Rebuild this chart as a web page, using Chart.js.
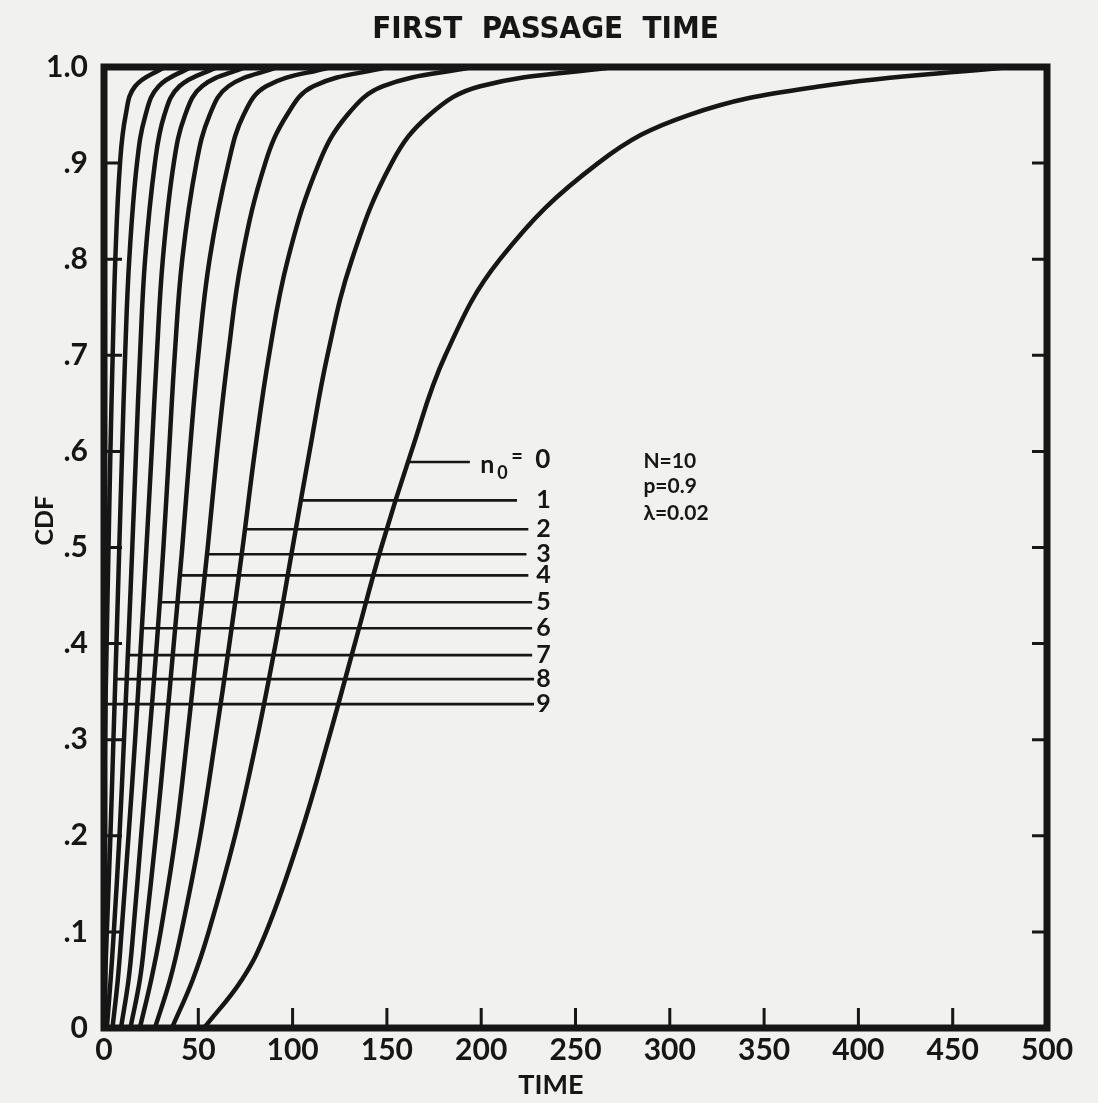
<!DOCTYPE html>
<html>
<head>
<meta charset="utf-8">
<script src="https://cdn.jsdelivr.net/npm/chart.js@4.4.1/dist/chart.umd.min.js"></script>
<style>
  html, body { margin: 0; padding: 0; background: #f1f1ef; }
  #wrap { width: 1098px; height: 1103px; position: relative; }
</style>
</head>
<body>
<div id="wrap"><canvas id="fptChart"></canvas></div>
<script>
const ink = '#161616';

const cdfLevels = [0, 0.05, 0.1, 0.2, 0.3, 0.4, 0.5, 0.6, 0.7, 0.8, 0.9, 0.95, 0.98, 1.0];

// time values per curve (n0 = starting state), one per CDF level
const timeN0 = [53, 73, 86, 104, 119, 133, 147, 163, 181, 210, 262, 310, 380, 480];
const timeN1 = [36, 47, 55.5, 69.5, 81, 91, 100, 109, 118.5, 131.5, 152.5, 172.5, 199.5, 270];
const timeN2 = [27, 35, 41, 51, 59, 66.5, 73.5, 80, 87.5, 97.5, 114, 129, 148, 195];
const timeN3 = [19, 25, 30, 38, 44, 49.5, 55, 60, 65.8, 73, 85.5, 97, 111, 150];
const timeN4 = [14, 19, 22, 27.5, 32.4, 37, 41.5, 45.5, 50, 56, 66, 74, 86, 120];
const timeN5 = [9, 13, 15.5, 19.7, 23.9, 28, 31.5, 34.5, 37.5, 41.5, 49, 56, 66, 92];
const timeN6 = [4.5, 7.3, 9.3, 13, 16.5, 19.6, 22.5, 25.3, 28, 31.2, 37, 43, 52, 75];
const timeN7 = [1.5, 3.5, 5.2, 8.2, 10.6, 12.9, 15, 17, 19.1, 21.8, 27, 32, 40, 60];
const timeN8 = [0, 0.6, 1.5, 3.4, 5, 6.6, 8.1, 9.6, 11.2, 13.4, 17.5, 22, 29, 46];
const timeN9 = [0, 0, 0, 0.1, 0.5, 1.4, 2.4, 3.4, 4.6, 6, 8.5, 11.5, 16.5, 32];

// horizontal marker lines: CDF value, start time (on its curve), end time
const markerCdf = [0.589, 0.549, 0.519, 0.493, 0.471, 0.443, 0.416, 0.388, 0.363, 0.337];
const markerStart = [161, 105, 74, 55, 41, 30, 20, 12, 6, 0.5];
const markerEnd = [194, 219, 225, 224, 225, 227, 227, 227, 228, 228];
const markerLabels = ['0', '1', '2', '3', '4', '5', '6', '7', '8', '9'];

// parameter block
const paramText = ['N=10', 'p=0.9', '\u03bb=0.02'];
const paramCdf = [0.59, 0.564, 0.536];

// tick labels
const xTickLabels = ['0', '50', '100', '150', '200', '250', '300', '350', '400', '450', '500'];
const yTickLabels = ['0', '.1', '.2', '.3', '.4', '.5', '.6', '.7', '.8', '.9', '1.0'];

// text anchors (in data units)
const n0LabelTime = 199.5;
const digitLabelTime = 233;
const paramTime = 286;
const xTitleTime = 237;
const yTitleCdf = 0.528;

const curves = [timeN0, timeN1, timeN2, timeN3, timeN4, timeN5, timeN6, timeN7, timeN8, timeN9];

function makeCurve(times, n) {
    return {
        label: 'n0 = ' + n,
        data: cdfLevels.map((c, i) => ({ x: times[i], y: c })),
        borderColor: ink,
        borderWidth: 4.5,
        pointRadius: 0,
        tension: 0.4,
        fill: false
    };
}

function makeMarker(k) {
    return {
        label: 'marker ' + k,
        data: [{ x: markerStart[k], y: markerCdf[k] }, { x: markerEnd[k], y: markerCdf[k] }],
        borderColor: ink,
        borderWidth: 2.6,
        pointRadius: 0,
        tension: 0,
        fill: false
    };
}

// frame + inward ticks on left, right and bottom
const frameTicks = {
    id: 'frameTicks',
    afterDatasetsDraw(chart) {
        const { ctx, chartArea: a, scales: { x, y } } = chart;
        ctx.save();
        ctx.strokeStyle = ink;
        ctx.lineWidth = 3;
        ctx.beginPath();
        x.ticks.forEach(t => {
            if (t.value <= 0 || t.value >= 500) return;
            const px = x.getPixelForValue(t.value);
            ctx.moveTo(px, a.bottom);
            ctx.lineTo(px, a.bottom - 20);
        });
        y.ticks.forEach(t => {
            if (t.value <= 0.001 || t.value >= 0.999) return;
            const py = y.getPixelForValue(t.value);
            ctx.moveTo(a.left, py);
            ctx.lineTo(a.left + 18, py);
            ctx.moveTo(a.right, py);
            ctx.lineTo(a.right - 15, py);
        });
        ctx.stroke();
        ctx.lineWidth = 7;
        ctx.lineJoin = 'miter';
        ctx.strokeRect(a.left, a.top, a.right - a.left, a.bottom - a.top);
        ctx.restore();
    }
};

// curve labels, parameter text and axis titles
const annotations = {
    id: 'annotations',
    afterDatasetsDraw(chart) {
        const { ctx, chartArea: a, scales: { x, y } } = chart;
        ctx.save();
        ctx.fillStyle = ink;
        ctx.textBaseline = 'middle';
        ctx.textAlign = 'left';

        const ax = x.getPixelForValue(n0LabelTime);
        const ay = y.getPixelForValue(markerCdf[0]);
        ctx.font = 'bold 25px Lato';
        ctx.fillText('n', ax, ay + 3);
        ctx.font = 'bold 18px Lato';
        ctx.fillText(markerLabels[0], ax + 17, ay + 11);
        ctx.font = 'bold 20px Lato';
        ctx.fillText('=', ax + 31, ay - 5);
        ctx.font = 'bold 26px Lato';
        ctx.fillText(markerLabels[0], ax + 55, ay - 2);

        ctx.font = 'bold 25px Lato';
        ctx.textAlign = 'center';
        for (let k = 1; k < markerCdf.length; k++) {
            ctx.fillText(markerLabels[k], x.getPixelForValue(digitLabelTime), y.getPixelForValue(markerCdf[k]));
        }

        ctx.font = 'bold 21px Lato';
        ctx.textAlign = 'left';
        paramText.forEach((t, i) => {
            ctx.fillText(t, x.getPixelForValue(paramTime), y.getPixelForValue(paramCdf[i]));
        });

        // axis titles
        ctx.textAlign = 'center';
        ctx.font = 'bold 27px Lato';
        ctx.fillText('TIME', x.getPixelForValue(xTitleTime), a.bottom + 57);
        ctx.translate(45, y.getPixelForValue(yTitleCdf));
        ctx.rotate(-Math.PI / 2);
        ctx.font = 'bold 25px Lato';
        ctx.fillText('CDF', 0, 0);
        ctx.restore();
    }
};

window.onload = () => {
    Chart.defaults.font.family = 'Lato';
    Chart.defaults.color = ink;

    const ctx = document.getElementById('fptChart').getContext('2d');
    new Chart(ctx, {
        type: 'line',
        data: {
            datasets: [
                ...curves.map(makeCurve),
                ...markerCdf.map((c, k) => makeMarker(k))
            ]
        },
        plugins: [frameTicks, annotations],
        options: {
            responsive: true,
            maintainAspectRatio: false,
            animation: false,
            indexAxis: 'y',
            layout: { padding: { top: 0, left: 44, right: 51, bottom: 0 } },
            plugins: {
                legend: { display: false },
                tooltip: { enabled: false },
                title: {
                    display: true,
                    text: 'FIRST  PASSAGE  TIME',
                    color: ink,
                    font: { family: '"Liberation Sans Narrow", "DejaVu Sans Condensed", "Liberation Sans"', size: 31, weight: 'bold', lineHeight: 1.2 },
                    padding: { top: 11, bottom: 18.8 }
                }
            },
            scales: {
                x: {
                    type: 'linear',
                    min: 0,
                    max: 500,
                    grid: { display: false, drawTicks: false },
                    border: { display: false },
                    ticks: {
                        stepSize: 50,
                        padding: 4,
                        color: ink,
                        font: { size: 30, weight: 'bold' },
                        maxRotation: 0,
                        callback: (v, i) => xTickLabels[i]
                    },
                    afterFit: s => { s.height = 75; }
                },
                y: {
                    type: 'linear',
                    min: 0,
                    max: 1,
                    grid: { display: false, drawTicks: false },
                    border: { display: false },
                    ticks: {
                        stepSize: 0.1,
                        padding: 16,
                        color: ink,
                        font: { size: 30, weight: 'bold' },
                        callback: (v, i) => yTickLabels[i]
                    },
                    afterFit: s => { s.width = 60; }
                }
            }
        }
    });
};
</script>
</body>
</html>
